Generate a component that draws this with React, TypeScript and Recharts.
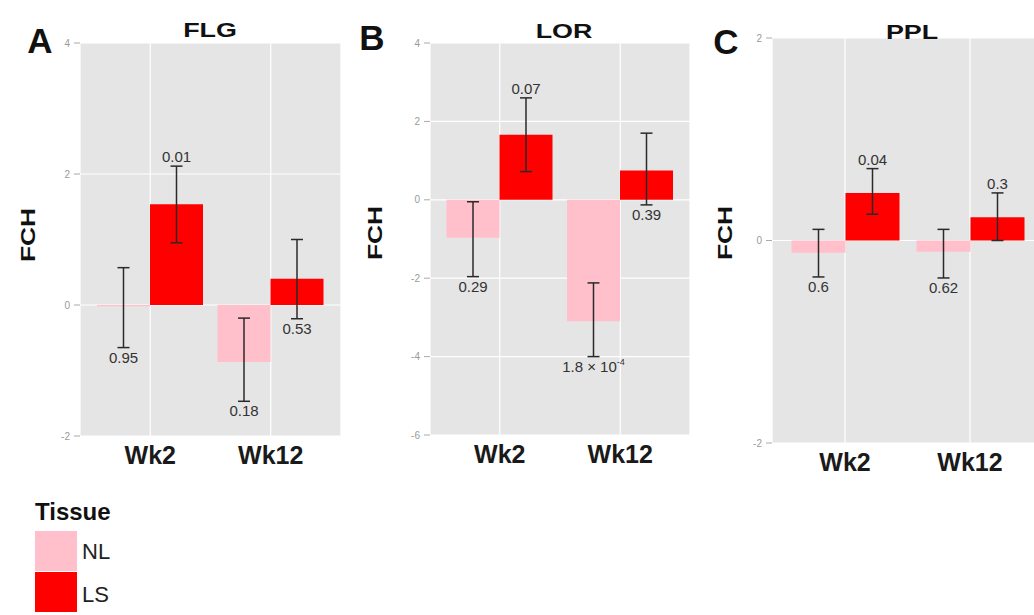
import React from "react";
import { BarChart, Bar, XAxis, YAxis, CartesianGrid, ErrorBar, LabelList } from "recharts";

const FONT = '"Liberation Sans", Arial, Helvetica, sans-serif';
const NL_COLOR = "#FFC0CB";
const LS_COLOR = "#FF0000";
const PANEL_BG = "#E5E5E5";

const weeks = ["Wk2", "Wk12"];
const tissues = ["NL", "LS"];
const panelLetters = ["A", "B", "C"];
const panelTitles = ["FLG", "LOR", "PPL"];

// FLG
const flgNL = [-0.02, -0.87];
const flgNLLower = [-0.65, -1.47];
const flgNLUpper = [0.57, -0.2];
const flgNLP = ["0.95", "0.18"];
const flgNLSide = ["down", "down"];
const flgLS = [1.54, 0.4];
const flgLSLower = [0.95, -0.21];
const flgLSUpper = [2.12, 1.0];
const flgLSP = ["0.01", "0.53"];
const flgLSSide = ["up", "down"];
const flgTicks = [-2, 0, 2, 4];

// LOR
const lorNL = [-0.97, -3.1];
const lorNLLower = [-1.96, -4.0];
const lorNLUpper = [-0.05, -2.12];
const lorNLP = ["0.29", "1.8 × 10^-4"];
const lorNLSide = ["down", "down"];
const lorLS = [1.66, 0.75];
const lorLSLower = [0.72, -0.13];
const lorLSUpper = [2.6, 1.7];
const lorLSP = ["0.07", "0.39"];
const lorLSSide = ["up", "down"];
const lorTicks = [-6, -4, -2, 0, 2, 4];

// PPL
const pplNL = [-0.12, -0.11];
const pplNLLower = [-0.36, -0.37];
const pplNLUpper = [0.11, 0.11];
const pplNLP = ["0.6", "0.62"];
const pplNLSide = ["down", "down"];
const pplLS = [0.47, 0.23];
const pplLSLower = [0.26, 0.0];
const pplLSUpper = [0.71, 0.47];
const pplLSP = ["0.04", "0.3"];
const pplLSSide = ["up", "up"];
const pplTicks = [-2, 0, 2];

type Series = { mean: number[]; lower: number[]; upper: number[]; p: string[]; side: string[] };

function buildRows(nl: Series, ls: Series) {
  return weeks.map((week, i) => ({
    week,
    nl: nl.mean[i],
    nlErr: [nl.mean[i] - nl.lower[i], nl.upper[i] - nl.mean[i]],
    nlTag: (nl.side[i] === "up" ? nl.upper[i] : nl.lower[i]) - nl.mean[i],
    nlLabel: `${nl.side[i]}|${nl.p[i]}`,
    ls: ls.mean[i],
    lsErr: [ls.mean[i] - ls.lower[i], ls.upper[i] - ls.mean[i]],
    lsTag: (ls.side[i] === "up" ? ls.upper[i] : ls.lower[i]) - ls.mean[i],
    lsLabel: `${ls.side[i]}|${ls.p[i]}`,
  }));
}

const flgRows = buildRows(
  { mean: flgNL, lower: flgNLLower, upper: flgNLUpper, p: flgNLP, side: flgNLSide },
  { mean: flgLS, lower: flgLSLower, upper: flgLSUpper, p: flgLSP, side: flgLSSide }
);
const lorRows = buildRows(
  { mean: lorNL, lower: lorNLLower, upper: lorNLUpper, p: lorNLP, side: lorNLSide },
  { mean: lorLS, lower: lorLSLower, upper: lorLSUpper, p: lorLSP, side: lorLSSide }
);
const pplRows = buildRows(
  { mean: pplNL, lower: pplNLLower, upper: pplNLUpper, p: pplNLP, side: pplNLSide },
  { mean: pplLS, lower: pplLSLower, upper: pplLSUpper, p: pplLSP, side: pplLSSide }
);

// p-value text at the far end of the error bar (the transparent stacked bar ends there)
function PValueLabel(props: any) {
  const { x, y, width, height, value } = props;
  if (typeof value !== "string") return null;
  const [side, text] = value.split("|");
  const y0 = Number(y);
  const h = Number(height);
  const cx = Number(x) + Number(width) / 2;
  const top = Math.min(y0, y0 + h);
  const bottom = Math.max(y0, y0 + h);
  const ty = side === "up" ? top - 4 : bottom + 15;
  const [base, sup] = text.split("^");
  return (
    <text x={cx} y={ty} textAnchor="middle" fontSize={15} fill="#333" fontFamily={FONT}>
      {base}
      {sup && (
        <tspan dy={-7} fontSize={9}>
          {sup}
        </tspan>
      )}
    </text>
  );
}

type PanelProps = {
  rows: ReturnType<typeof buildRows>;
  ticks: number[];
  left: number;
  width: number;
  yAxisWidth: number;
  plotTop: number;
  plotBottom: number;
  padX: number;
  barSize: number;
};

const CHART_H = 500;
const XAXIS_H = 40;

function Panel({ rows, ticks, left, width, yAxisWidth, plotTop, plotBottom, padX, barSize }: PanelProps) {
  return (
    <div style={{ position: "absolute", left, top: 0 }}>
      <BarChart
        width={width}
        height={CHART_H}
        data={rows}
        margin={{ top: plotTop, right: 2, left: 0, bottom: CHART_H - plotBottom - XAXIS_H }}
        barGap={0}
        barSize={barSize}
      >
        <CartesianGrid fill={PANEL_BG} stroke="#ffffff" strokeWidth={1.2} />
        <XAxis
          dataKey="week"
          padding={{ left: padX, right: padX }}
          tickLine={false}
          axisLine={false}
          tickSize={0}
          tickMargin={10}
          height={XAXIS_H}
          tick={{ fontSize: 25, fontWeight: "bold", fill: "#1a1a1a" }}
        />
        <YAxis
          type="number"
          domain={[ticks[0], ticks[ticks.length - 1]]}
          ticks={ticks}
          allowDataOverflow
          width={yAxisWidth}
          axisLine={false}
          tickSize={6}
          tickMargin={4}
          tickLine={{ stroke: "#aaaaaa" }}
          tick={{ fontSize: 10, fill: "#9a9a9a" }}
        />
        <Bar dataKey="nl" stackId="nl" fill={NL_COLOR} isAnimationActive={false}>
          <ErrorBar dataKey="nlErr" direction="y" width={6} strokeWidth={1.5} stroke="#2a2a2a" />
        </Bar>
        <Bar dataKey="nlTag" stackId="nl" fill="none" isAnimationActive={false}>
          <LabelList dataKey="nlLabel" content={PValueLabel} />
        </Bar>
        <Bar dataKey="ls" stackId="ls" fill={LS_COLOR} isAnimationActive={false}>
          <ErrorBar dataKey="lsErr" direction="y" width={6} strokeWidth={1.5} stroke="#2a2a2a" />
        </Bar>
        <Bar dataKey="lsTag" stackId="ls" fill="none" isAnimationActive={false}>
          <LabelList dataKey="lsLabel" content={PValueLabel} />
        </Bar>
      </BarChart>
    </div>
  );
}

const letterPos = [
  [40, 40],
  [372, 37],
  [726, 41],
];
const titlePos = [
  [210, 30],
  [564, 31],
  [912, 32],
];
const fchPos = [
  [28, 235],
  [375, 233],
  [725, 233],
];
const tissueColors = [NL_COLOR, LS_COLOR];

export default function App() {
  return (
    <div
      style={{
        position: "absolute",
        left: 0,
        top: 0,
        width: 1034,
        height: 615,
        overflow: "hidden",
        background: "#ffffff",
        fontFamily: FONT,
      }}
    >
      <Panel rows={flgRows} ticks={flgTicks} left={0} width={343} yAxisWidth={80} plotTop={43} plotBottom={436} padX={10} barSize={53} />
      <Panel rows={lorRows} ticks={lorTicks} left={345} width={347} yAxisWidth={85} plotTop={43} plotBottom={435} padX={9.5} barSize={53} />
      <Panel rows={pplRows} ticks={pplTicks} left={690} width={355} yAxisWidth={82} plotTop={38} plotBottom={443} padX={10.5} barSize={54} />

      <svg width={1034} height={615} style={{ position: "absolute", left: 0, top: 0, pointerEvents: "none" }}>
        {panelLetters.map((l, i) => (
          <text key={l} x={letterPos[i][0]} y={letterPos[i][1]} textAnchor="middle" dominantBaseline="central" fontSize={35} fontWeight="bold" fill="#111">
            {l}
          </text>
        ))}
        {panelTitles.map((t, i) => (
          <g key={t} transform={`translate(${titlePos[i][0]},${titlePos[i][1]}) scale(1.28,1)`}>
            <text x={0} y={0} textAnchor="middle" dominantBaseline="central" fontSize={21} fontWeight="bold" fill="#111">
              {t}
            </text>
          </g>
        ))}
        {fchPos.map((p, i) => (
          <g key={i} transform={`translate(${p[0]},${p[1]}) rotate(-90) scale(1.32,1)`}>
            <text x={0} y={0} textAnchor="middle" dominantBaseline="central" fontSize={20} fontWeight="bold" fill="#111">
              FCH
            </text>
          </g>
        ))}
        <text x={35} y={520} fontSize={24} fontWeight="bold" fill="#111">
          Tissue
        </text>
        {tissues.map((t, i) => (
          <g key={t}>
            <rect x={35} y={531 + i * 41} width={42} height={40} fill={tissueColors[i]} />
            <text x={82} y={551 + i * 43} dominantBaseline="central" fontSize={22} fill="#222">
              {t}
            </text>
          </g>
        ))}
      </svg>
    </div>
  );
}
